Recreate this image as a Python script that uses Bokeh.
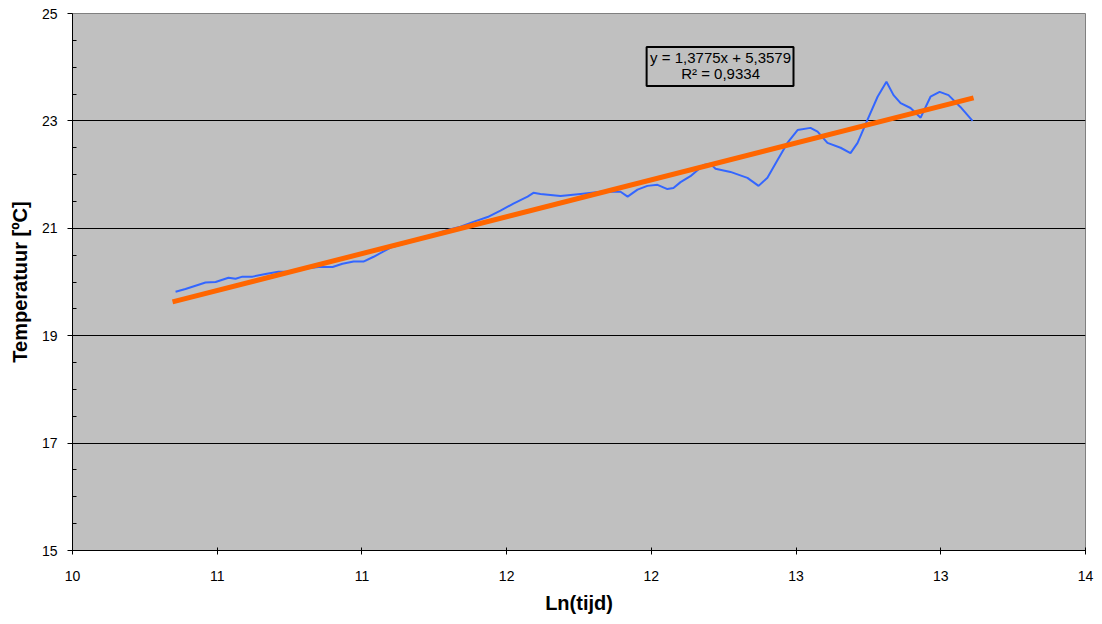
from bokeh.plotting import figure
from bokeh.models import FixedTicker, Range1d, Label, BoxAnnotation
from bokeh.embed import file_html
from bokeh.resources import INLINE

# ---- data ----
ln_tijd = [10.407, 10.446, 10.498, 10.525, 10.565, 10.616, 10.644, 10.671, 10.711, 10.762,
           10.813, 10.869, 10.920, 10.971, 11.027, 11.066,
           11.110, 11.149, 11.189, 11.256, 11.323, 11.374, 11.425, 11.481, 11.532, 11.583,
           11.639, 11.690, 11.741, 11.797, 11.820, 11.848,
           11.927, 12.006, 12.085, 12.164, 12.192, 12.231, 12.270, 12.310, 12.349, 12.373,
           12.401, 12.440, 12.492, 12.519, 12.539, 12.598,
           12.665, 12.709, 12.744, 12.784, 12.823, 12.863, 12.914, 12.942, 12.981, 13.033,
           13.072, 13.100, 13.139, 13.179, 13.214, 13.242, 13.270, 13.309, 13.349, 13.388,
           13.424, 13.459, 13.506, 13.554]
temperatuur = [19.82, 19.87, 19.95, 19.99, 20.00, 20.08, 20.06, 20.10, 20.10, 20.15,
               20.19, 20.19, 20.25, 20.28, 20.28, 20.34,
               20.38, 20.38, 20.47, 20.64, 20.73, 20.82, 20.88, 20.97, 21.03, 21.12,
               21.21, 21.33, 21.46, 21.59, 21.66, 21.64,
               21.60, 21.64, 21.68, 21.68, 21.59, 21.72, 21.79, 21.81, 21.73, 21.75,
               21.86, 21.97, 22.18, 22.20, 22.11, 22.05,
               21.94, 21.79, 21.94, 22.27, 22.59, 22.83, 22.87, 22.80, 22.59, 22.50,
               22.40, 22.59, 23.02, 23.45, 23.73, 23.48, 23.33, 23.24, 23.06, 23.45,
               23.54, 23.48, 23.26, 23.00]
trend_x = [10.395, 13.558]
trend_y = [19.63, 23.43]

x_ticks = [10.0, 10 + 4 / 7, 10 + 8 / 7, 10 + 12 / 7, 10 + 16 / 7, 10 + 20 / 7, 10 + 24 / 7, 14.0]
x_tick_labels = ["10", "11", "11", "12", "12", "13", "13", "14"]
y_ticks = [15, 17, 19, 21, 23, 25]
y_minor = [15.5, 16, 16.5, 17.5, 18, 18.5, 19.5, 20, 20.5, 21.5, 22, 22.5, 23.5, 24, 24.5]
eq_text = "y = 1,3775x + 5,3579"
r2_text = "R² = 0,9334"

FONT = "Liberation Sans"

p = figure(frame_width=1013, frame_height=537, output_backend="svg", toolbar_location=None,
           x_range=Range1d(10, 14), y_range=Range1d(15, 25),
           min_border_left=72, min_border_right=10, min_border_top=13, min_border_bottom=60)
p.background_fill_color = "#C0C0C0"
p.border_fill_color = "white"
p.outline_line_color = "#808080"
p.outline_line_width = 1

# axes
p.xaxis.ticker = FixedTicker(ticks=x_ticks)
p.xaxis.major_label_overrides = {t: l for t, l in zip(x_ticks, x_tick_labels)}
p.yaxis.ticker = FixedTicker(ticks=y_ticks, minor_ticks=y_minor)
for ax in (p.xaxis[0], p.yaxis[0]):
    ax.axis_line_color = "black"
    ax.axis_line_width = 1
    ax.major_tick_line_color = "black"
    ax.minor_tick_line_color = "black"
    ax.major_label_text_font = FONT
    ax.major_label_text_font_size = "14px"
    ax.major_label_text_color = "black"
    ax.axis_label_text_font = FONT
    ax.axis_label_text_font_size = "20px"
    ax.axis_label_text_font_style = "bold"
    ax.axis_label_text_color = "black"

p.xaxis.major_tick_in = 3
p.xaxis.major_tick_out = 4
p.xaxis.minor_tick_in = 0
p.xaxis.minor_tick_out = 0
p.xaxis.major_label_standoff = 16
p.xaxis.axis_label = "Ln(tijd)"
p.xaxis.axis_label_standoff = 8

p.yaxis.major_tick_in = 0
p.yaxis.major_tick_out = 5
p.yaxis.minor_tick_in = 4
p.yaxis.minor_tick_out = 0
p.yaxis.major_label_standoff = 10
p.yaxis.axis_label = "Temperatuur [ºC]"
p.yaxis.axis_label_standoff = 8

p.xgrid.visible = False
p.ygrid.ticker = FixedTicker(ticks=[17, 19, 21, 23])
p.ygrid.grid_line_color = "black"
p.ygrid.grid_line_width = 1

# data
p.line(ln_tijd, temperatuur, line_color="#3366FF", line_width=2)
p.line(trend_x, trend_y, line_color="#FF6600", line_width=5)

# equation box
box = BoxAnnotation(left=12.267, right=12.847, top=24.377, bottom=23.651,
                    fill_alpha=0, line_color="black", line_width=2, line_alpha=1)
p.add_layout(box)
p.add_layout(Label(x=12.559, y=24.172, text=eq_text, text_align="center", text_baseline="middle",
                   text_font=FONT, text_font_size="15px", text_color="black"))
p.add_layout(Label(x=12.559, y=23.874, text=r2_text, text_align="center", text_baseline="middle",
                   text_font=FONT, text_font_size="15px", text_color="black"))

open("out.html", "w").write(file_html(p, INLINE))
